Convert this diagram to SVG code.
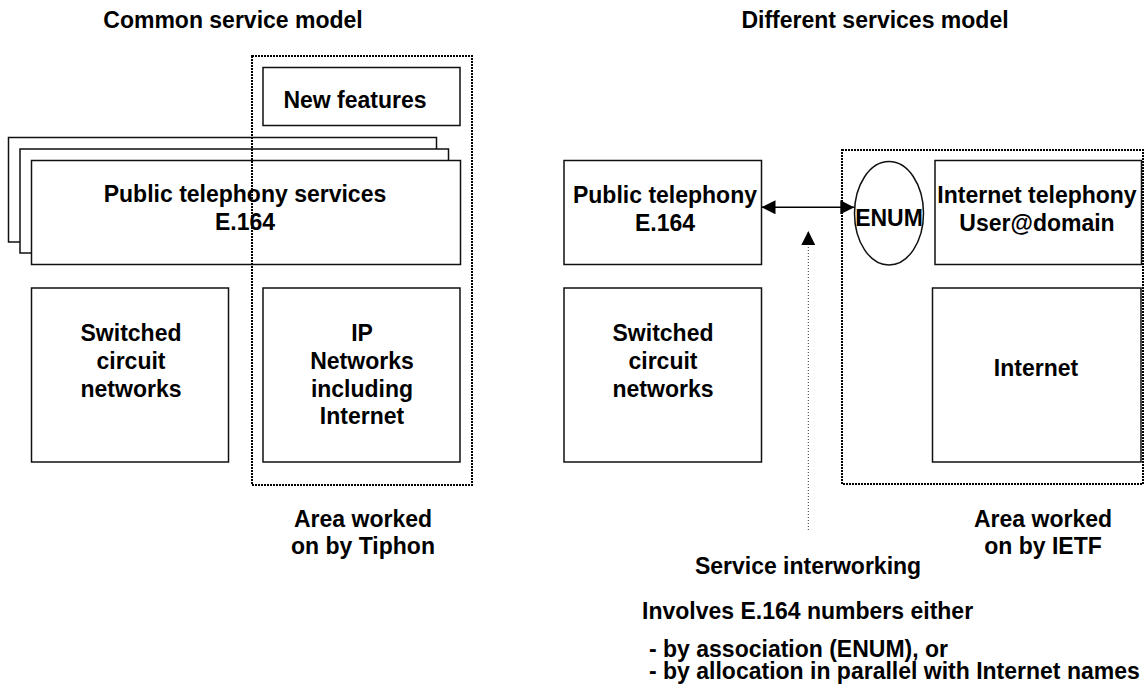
<svg xmlns="http://www.w3.org/2000/svg" width="1144" height="699" viewBox="0 0 1144 699">
<defs>
<style>
.t{font-family:"Liberation Sans",Arial,sans-serif;font-weight:bold;font-size:23px;fill:#000}
.c{text-anchor:middle}
.box{fill:#fff;stroke:#111;stroke-width:1.5}
.area{fill:none;stroke:#000;stroke-width:2;stroke-dasharray:2 1}
.link{fill:none;stroke:#000;stroke-width:1.5}
.dot{fill:none;stroke:#333;stroke-width:1;stroke-dasharray:1 2}
</style>
<marker id="ah" viewBox="0 0 14 14" refX="14" refY="7" markerWidth="14" markerHeight="14" markerUnits="userSpaceOnUse" orient="auto-start-reverse">
<path d="M0,0 L14,7 L0,14 Z" fill="#000"/>
</marker>
</defs>
<rect width="1144" height="699" fill="#fff"/>

<text class="t c" x="233" y="28">Common service model</text>
<text class="t c" x="875" y="28">Different services model</text>

<g id="new-features">
<rect class="box" x="263" y="67.5" width="197" height="58"/>
<text class="t c" x="355" y="108">New features</text>
</g>

<g id="public-telephony-services">
<rect class="box" x="8.5" y="137.5" width="428" height="104.5"/>
<rect class="box" x="20" y="149" width="428.5" height="104"/>
<rect class="box" x="31.5" y="160.5" width="429" height="104"/>
<text class="t c" x="245" y="202">Public telephony services</text>
<text class="t c" x="245" y="230">E.164</text>
</g>

<g id="switched-left">
<rect class="box" x="31.5" y="288" width="197" height="174"/>
<text class="t c" x="131" y="341">Switched</text>
<text class="t c" x="131" y="369">circuit</text>
<text class="t c" x="131" y="397">networks</text>
</g>

<g id="ip-networks">
<rect class="box" x="263" y="288" width="197" height="174"/>
<text class="t c" x="362" y="341">IP</text>
<text class="t c" x="362" y="369">Networks</text>
<text class="t c" x="362" y="397">including</text>
<text class="t c" x="362" y="424">Internet</text>
</g>

<g id="area-tiphon">
<rect class="area" x="252" y="56" width="220" height="429"/>
<text class="t c" x="363" y="527">Area worked</text>
<text class="t c" x="363" y="554">on by Tiphon</text>
</g>

<g id="area-ietf">
<rect class="area" x="842" y="150" width="301" height="334"/>
<text class="t c" x="1043" y="527">Area worked</text>
<text class="t c" x="1043" y="554">on by IETF</text>
</g>

<g id="public-telephony">
<rect class="box" x="564" y="160.5" width="197.5" height="104"/>
<text class="t c" x="665" y="203">Public telephony</text>
<text class="t c" x="665" y="231">E.164</text>
</g>

<g id="enum">
<ellipse class="box" cx="889" cy="213.3" rx="34.5" ry="51.7"/>
<text class="t c" x="889" y="226">ENUM</text>
</g>

<g id="internet-telephony">
<rect class="box" x="935" y="160.5" width="206.5" height="104"/>
<text class="t c" x="1037" y="203">Internet telephony</text>
<text class="t c" x="1037" y="231">User@domain</text>
</g>

<g id="switched-right">
<rect class="box" x="564" y="288" width="197.5" height="174"/>
<text class="t c" x="663" y="341">Switched</text>
<text class="t c" x="663" y="369">circuit</text>
<text class="t c" x="663" y="397">networks</text>
</g>

<g id="internet">
<rect class="box" x="932.5" y="288" width="208.5" height="174"/>
<text class="t c" x="1036" y="376">Internet</text>
</g>

<g id="connectors">
<line class="link" x1="761.5" y1="207.3" x2="854.3" y2="207.3" marker-start="url(#ah)" marker-end="url(#ah)"/>
<line class="dot" x1="808.3" y1="530" x2="808.3" y2="231" marker-end="url(#ah)"/>
</g>

<g id="notes">
<text class="t c" x="808" y="574">Service interworking</text>
<text class="t" x="642" y="619">Involves E.164 numbers either</text>
<text class="t" x="649" y="657">- by association (ENUM), or</text>
<text class="t" x="649" y="679">- by allocation in parallel with Internet names</text>
</g>
</svg>
